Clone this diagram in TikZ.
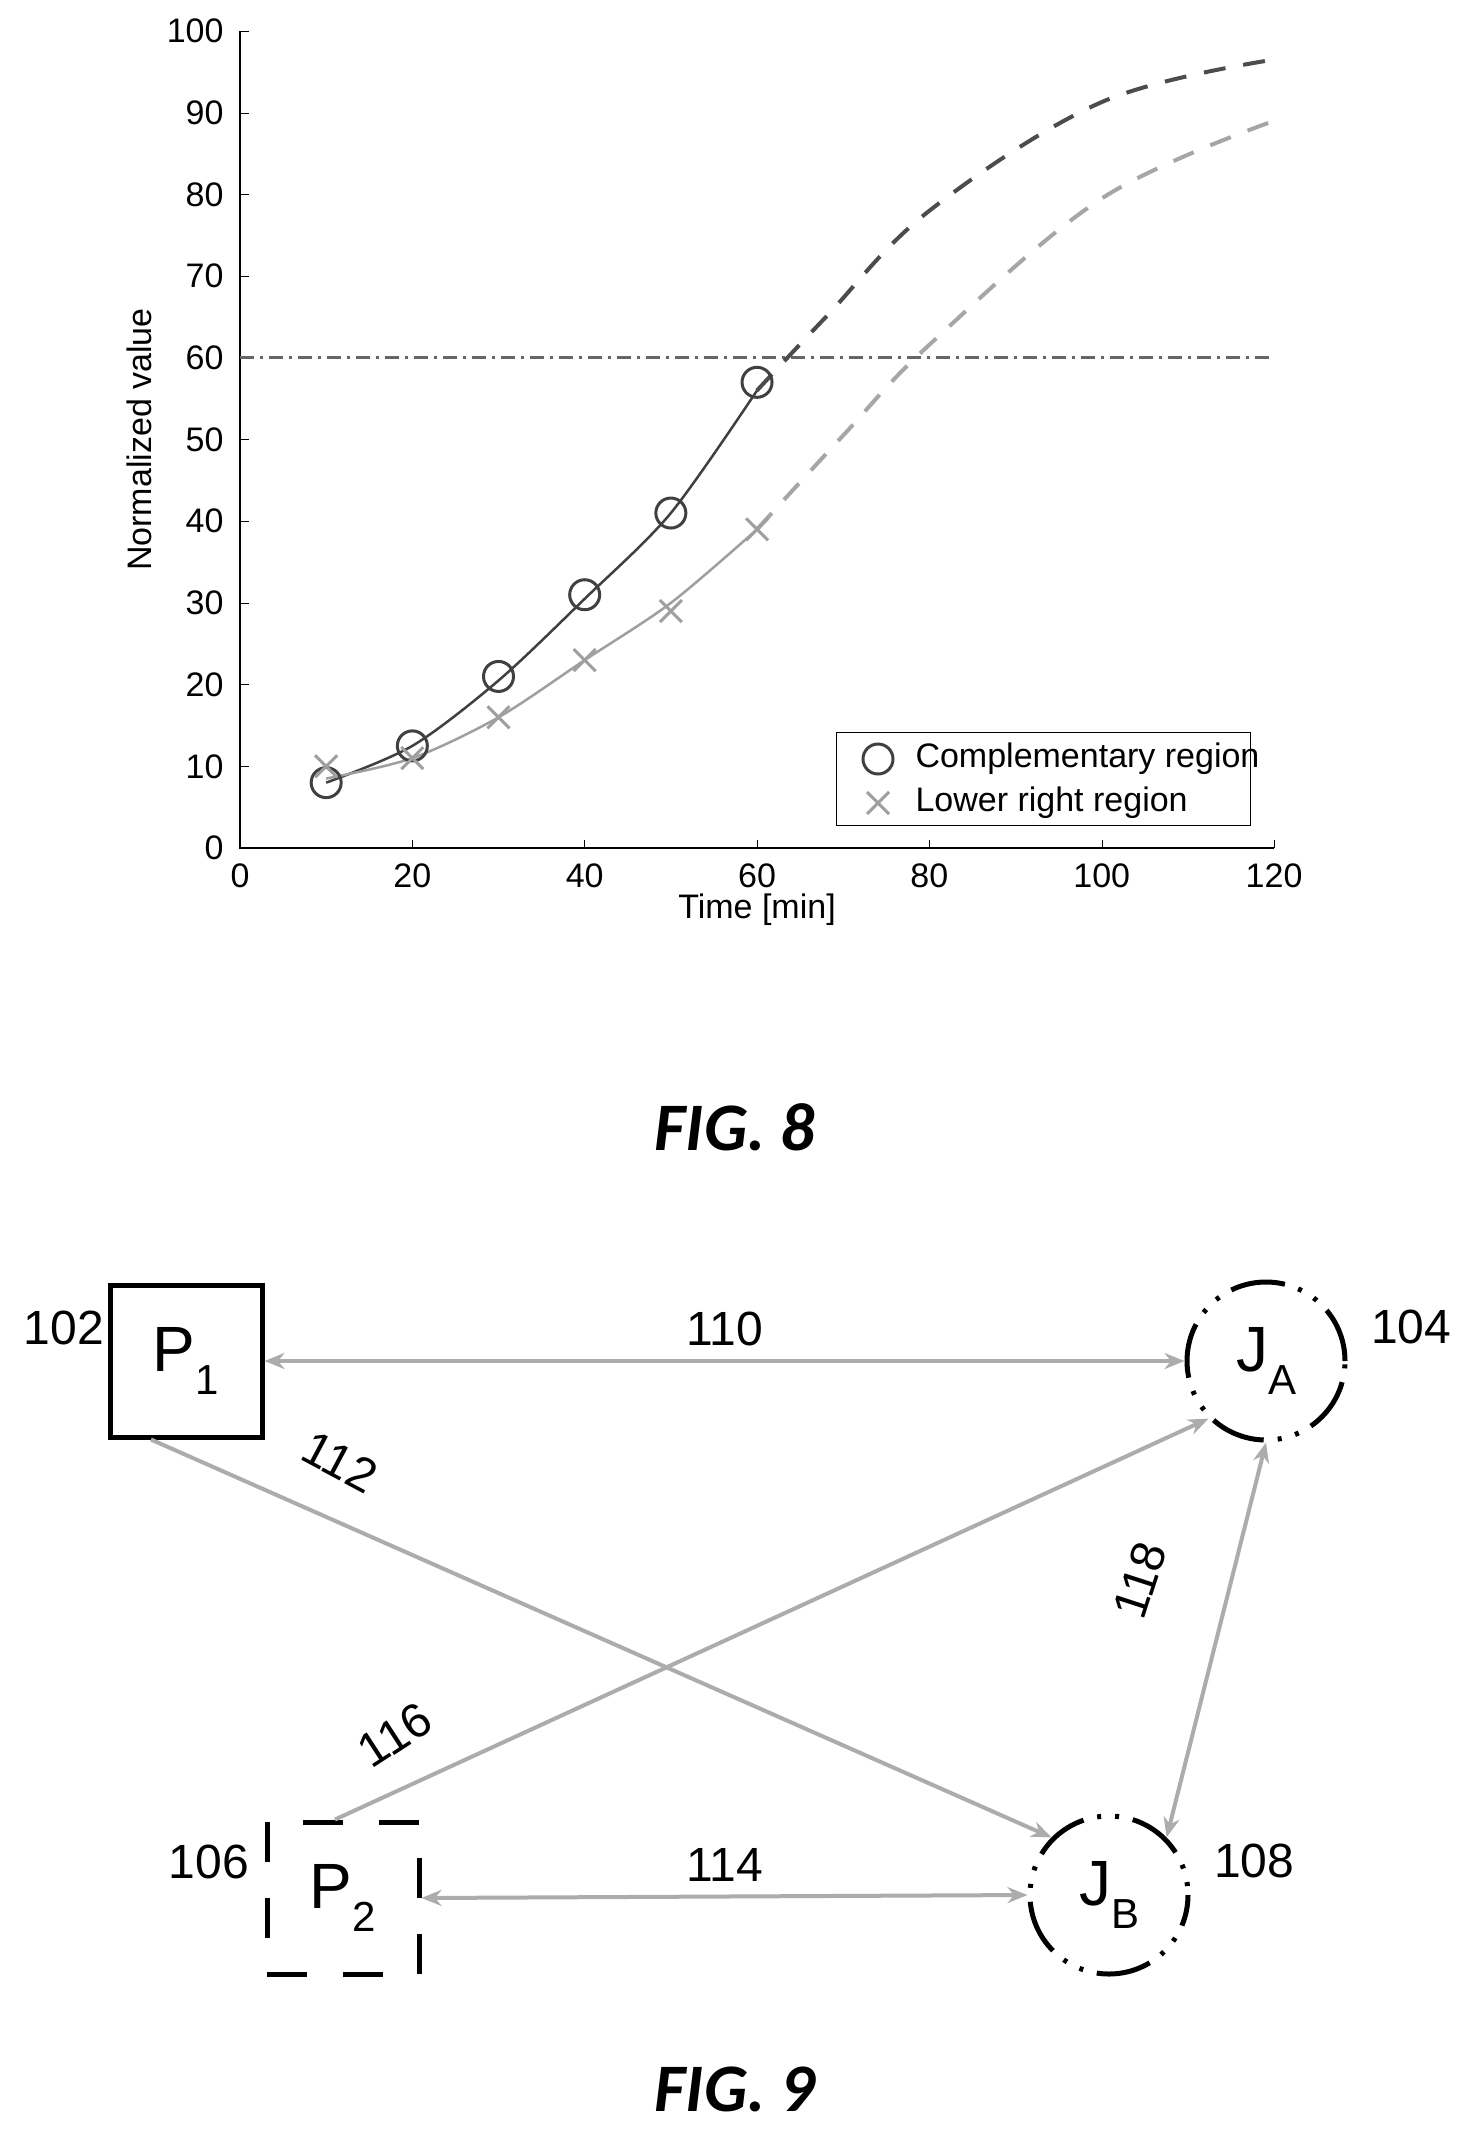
\documentclass[tikz,border=0pt]{standalone}
\usepackage{fontspec}
\setmainfont{Liberation Sans}
\newfontfamily\figfont{Carlito}
\usetikzlibrary{positioning,arrows.meta}
\tikzset{
  ticklab/.style={font=\fontsize{34}{34}\selectfont},
  figlab/.style={font=\figfont\bfseries\itshape\fontsize{68}{68}\selectfont},
  reflab/.style={font=\fontsize{48}{48}\selectfont},
  conn/.style={draw=gray!65, line width=4pt},
  gtip/.tip={Stealth[length=20pt,width=16pt]},
  jnode/.style={circle, minimum size=158pt, line width=5pt,
    dash pattern=on 55pt off 14pt on 4pt off 14pt on 4pt off 14pt},
  pnode/.style={minimum size=152pt, line width=5pt},
  nodelab/.style={font=\fontsize{64}{64}\selectfont},
}
\newcommand{\subs}[1]{\raisebox{-0.35em}{\fontsize{42}{42}\selectfont #1}}
\begin{document}
\begin{tikzpicture}[x=1pt,y=-1pt]
\useasboundingbox[fill=white] (0,0) rectangle (1470,2136);

% FIG. 8 plot
\begin{scope}[shift={(240,848)},x=8.617pt,y=8.17pt]
\draw[line width=1.2pt] (0,100) -- (0,0) -- (120,0);
\foreach \t in {0,20,...,120} {
  \draw (\t,0) -- (\t,1);
  \node[ticklab, anchor=north] at (\t,-1.5) {\t};
}
\foreach \v in {0,10,...,100} {
  \draw (0,\v) -- (1,\v);
  \node[ticklab, anchor=east] at (-1.5,\v) {\v};
}
\node[ticklab, rotate=90] at (-11.7,50) {Normalized value};
\node[ticklab] at (60,-7.5) {Time [min]};
% threshold
\draw[gray!80!black, line width=3pt, dash pattern=on 14pt off 6pt on 3pt off 6pt] (0,60) -- (120,60);
% measured curves
\draw[black!75, line width=2.5pt] plot[smooth] coordinates {(10,8) (20,12.5) (30,20.5) (40,30.5) (50,41) (60,56)};
\draw[gray!75, line width=2.5pt] plot[smooth] coordinates {(10,8.5) (20,11) (30,16) (40,23) (50,30) (60,39)};
% predicted curves
\draw[black!70, line width=4pt, dash pattern=on 22pt off 18pt] plot[smooth, tension=0.6] coordinates {(60,56) (68,65) (80,78) (100,91.3) (120,96.5)};
\draw[gray!70, line width=4pt, dash pattern=on 22pt off 18pt] plot[smooth, tension=0.6] coordinates {(60,39) (70,50.5) (80,61.6) (100,79.5) (120,89)};
% markers
\foreach \px/\py in {10/8,20/12.5,30/21,40/31,50/41,60/57}
  \draw[black!75, line width=3pt] (\px,\py) circle[radius=15pt];
\foreach \px/\py in {10/10,20/11,30/16,40/23,50/29,60/39}
  \draw[gray!75, line width=3pt] (\px,\py) ++(-11pt,-11pt) -- ++(22pt,22pt) ++(-22pt,0) -- ++(22pt,-22pt);
\end{scope}
% legend
\draw[line width=1pt] (836,732) rectangle (1250,825);
\draw[black!75, line width=3pt] (878,759) circle[radius=15pt];
\draw[gray!75, line width=3pt] (867,792) -- (889,814) (867,814) -- (889,792);
\node[ticklab, anchor=west] at (912,759) {Complementary region};
\node[ticklab, anchor=west] at (912,803) {Lower right region};
\node[figlab] (fig8) at (735,1127) {FIG. 8};

% FIG. 9 graph
\node[pnode, draw] (P1) at (186,1361) {};
\node[nodelab] at (P1) {P\subs{1}};
\node[pnode, draw, dash pattern=on 40pt off 36pt] (P2) at (343,1898) {};
\node[nodelab] at (P2) {P\subs{2}};
\node[jnode, draw] (JA) at (1266,1361) {};
\node[nodelab] at (JA) {J\subs{A}};
\node[jnode, draw, dash phase=60pt] (JB) at (1109,1895) {};
\node[nodelab] at (JB) {J\subs{B}};
\node[reflab, left=0pt of P1.north west, yshift=-45pt] {102};
\node[reflab, left=12pt of P2.north west, yshift=-42pt] {106};
\node[reflab, right=20pt of JA.east, yshift=34pt] {104};
\node[reflab, right=20pt of JB.east, yshift=34pt] {108};

\draw[conn, gtip-gtip] (P1.east) -- (JA.west) node[midway, above=10pt, reflab, text=black] {110};
\draw[conn, -gtip] (P1.south) ++(-35pt,0) coordinate (p1s) -- (JB.north west);
\node[reflab, rotate=-28] at (340,1462) {112};
\draw[conn, gtip-gtip] (P2.east) -- (JB.west) node[midway, above=10pt, reflab, text=black] {114};
\draw[conn, -gtip] (P2.north) ++(-8pt,0) coordinate (p2n) -- (JA.south west);
\node[reflab, rotate=33] at (395,1735) {116};
\draw[conn, gtip-gtip] (JA.south) -- (JB.north east);
\node[reflab, rotate=72] at (1140,1580) {118};
\node[figlab] (fig9) at (735,2089) {FIG. 9};
\end{tikzpicture}
\end{document}
